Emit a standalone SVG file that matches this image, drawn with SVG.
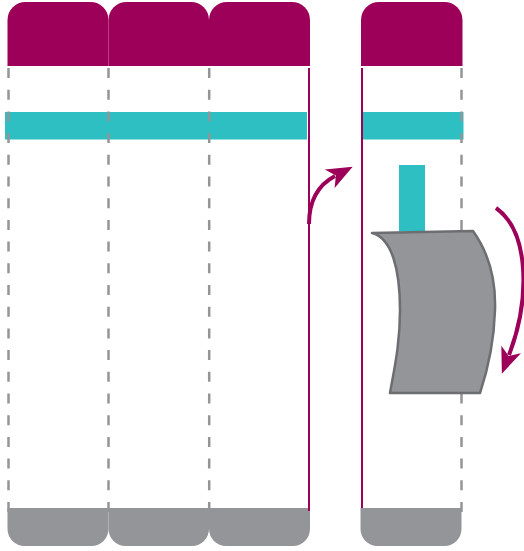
<svg xmlns="http://www.w3.org/2000/svg" width="524" height="551" viewBox="0 0 524 551">
<style>
.top{fill:#9c0058}
.bot{fill:#939598}
.teal{fill:#2ebfc2}
.dash{stroke:#939598;stroke-width:2.5;stroke-dasharray:10 11.7;fill:none}
.mline{stroke:#9c0058;stroke-width:2;fill:none}
.arrow{stroke:#9c0058;stroke-width:4;fill:none;marker-end:url(#head)}
</style>
<defs>
<marker id="head" markerUnits="userSpaceOnUse" viewBox="-8 -12 30 24" refX="0" refY="0" markerWidth="30" markerHeight="24" orient="auto">
<path d="M-6,-10.5 L20,0 L-6,10.5 L1,0 Z" fill="#9c0058"/>
</marker>
</defs>
<rect width="524" height="551" fill="#fff"/>
<g id="col1">
<path class="top" d="M7.5,66 V20 A18,18 0 0 1 25.5,2 H90.5 A18,18 0 0 1 108.5,20 V66 Z"/>
<path class="bot" d="M7.5,508 V529 A17,17 0 0 0 24.5,546 H91.5 A17,17 0 0 0 108.5,529 V508 Z"/>
</g>
<g id="col2">
<path class="top" d="M108.5,66 V20 A18,18 0 0 1 126.5,2 H191 A18,18 0 0 1 209,20 V66 Z"/>
<path class="bot" d="M108.5,508 V529 A17,17 0 0 0 125.5,546 H192 A17,17 0 0 0 209,529 V508 Z"/>
</g>
<g id="col3">
<path class="top" d="M209,66 V20 A18,18 0 0 1 227,2 H292 A18,18 0 0 1 310,20 V66 Z"/>
<path class="bot" d="M209,508 V529 A17,17 0 0 0 226,546 H293 A17,17 0 0 0 310,529 V508 Z"/>
</g>
<g id="bar-left">
<rect class="teal" x="5" y="112" width="302" height="27.5"/>
</g>
<g id="col4">
<path class="top" d="M361,66 V20 A18,18 0 0 1 379,2 H444.5 A18,18 0 0 1 462.5,20 V66 Z"/>
<path class="bot" d="M360.5,508 V529 A17,17 0 0 0 377.5,546 H444.5 A17,17 0 0 0 461.5,529 V508 Z"/>
<rect class="teal" x="363" y="112" width="100.5" height="27.5"/>
</g>
<g id="dividers">
<line class="dash" x1="8.5" y1="68" x2="8.5" y2="512"/>
<line class="dash" x1="108.5" y1="68" x2="108.5" y2="512"/>
<line class="dash" x1="209.2" y1="68" x2="209.2" y2="512"/>
<line class="dash" x1="461.5" y1="68" x2="461.5" y2="512"/>
<line class="mline" x1="309" y1="68" x2="309" y2="511"/>
<line class="mline" x1="362" y1="68" x2="362" y2="508"/>
</g>
<g id="stem">
<rect class="teal" x="399" y="165" width="26" height="66.5"/>
</g>
<g id="flap">
<path d="M372,233 C392,238 400,270 400,310 C400,345 394,370 390,393 L480,393 C487,372 494,345 495,310 C496,280 488,252 473,231 Z" fill="#939598" stroke="#6d6e71" stroke-width="2.5" stroke-linejoin="round"/>
</g>
<g id="connectors">
<path class="arrow" d="M309,224 C309,200 318,185 335,176"/>
<path class="arrow" d="M496,208 C530,232 530,300 509,355"/>
</g>
</svg>
